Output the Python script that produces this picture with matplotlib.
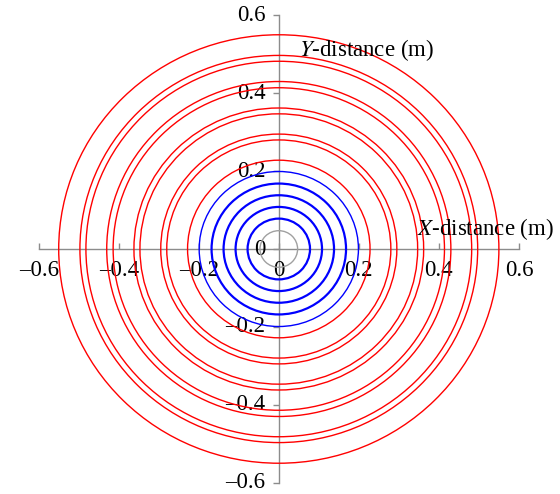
import matplotlib.pyplot as plt
import matplotlib.transforms as mtransforms
from matplotlib.patches import Circle

# radios (m)
radio_gris = 0.047
radios_azules = [0.078, 0.108, 0.138, 0.168, 0.199]
radios_rojos = [0.228, 0.280, 0.295, 0.347, 0.362, 0.414, 0.430, 0.482, 0.497, 0.550]
marcas = [-0.6, -0.4, -0.2, 0, 0.2, 0.4, 0.6]
etiquetas = ['\u20130.6', '\u20130.4', '\u20130.2', '0', '0.2', '0.4', '0.6']

plt.rcParams['font.family'] = ['Liberation Serif', 'DejaVu Serif']
plt.rcParams['mathtext.fontset'] = 'stix'

fig = plt.figure(figsize=(5.6, 4.94), dpi=100)
ax = fig.add_axes([38.7 / 560, 11.3 / 494, 480.2 / 560, 467.4 / 494])
ax.set_xlim(-0.6, 0.6)
ax.set_ylim(-0.6, 0.6)

ax.add_patch(Circle((0, 0), radio_gris, fill=False, color='#a0a0a0', lw=1.0, zorder=3))
for i, r in enumerate(radios_azules):
    grosor = 1.0 if i == len(radios_azules) - 1 else 1.6
    ax.add_patch(Circle((0, 0), r, fill=False, color='blue', lw=grosor, zorder=3))
for r in radios_rojos:
    ax.add_patch(Circle((0, 0), r, fill=False, color='red', lw=1.0, zorder=3))

gris = '#8c8c8c'
for lado in ['top', 'right']:
    ax.spines[lado].set_visible(False)
for lado in ['left', 'bottom']:
    ax.spines[lado].set_position('zero')
    ax.spines[lado].set_color(gris)
    ax.spines[lado].set_linewidth(1.0)
    ax.spines[lado].set_zorder(1)
ax.patch.set_visible(False)

ax.set_xticks(marcas, etiquetas)
ax.set_yticks(marcas, etiquetas)
ax.tick_params(axis='x', direction='in', length=4, width=1.0, color=gris, pad=8, labelsize=16.5)
ax.tick_params(axis='y', direction='out', length=4.5, width=1.0, color=gris, pad=5, labelsize=16.5)

# subir un poco las etiquetas del eje y
subir = mtransforms.ScaledTranslation(0, 2.5 / 100, fig.dpi_scale_trans)
for etiqueta in ax.get_yticklabels():
    etiqueta.set_transform(etiqueta.get_transform() + subir)

ax.text(0.345, 0.036, '$X$-distance (m)', fontsize=16.5, ha='left', va='baseline')
ax.text(0.051, 0.496, '$Y$-distance (m)', fontsize=16.5, ha='left', va='baseline')

fig.savefig('out.png', dpi=100)
